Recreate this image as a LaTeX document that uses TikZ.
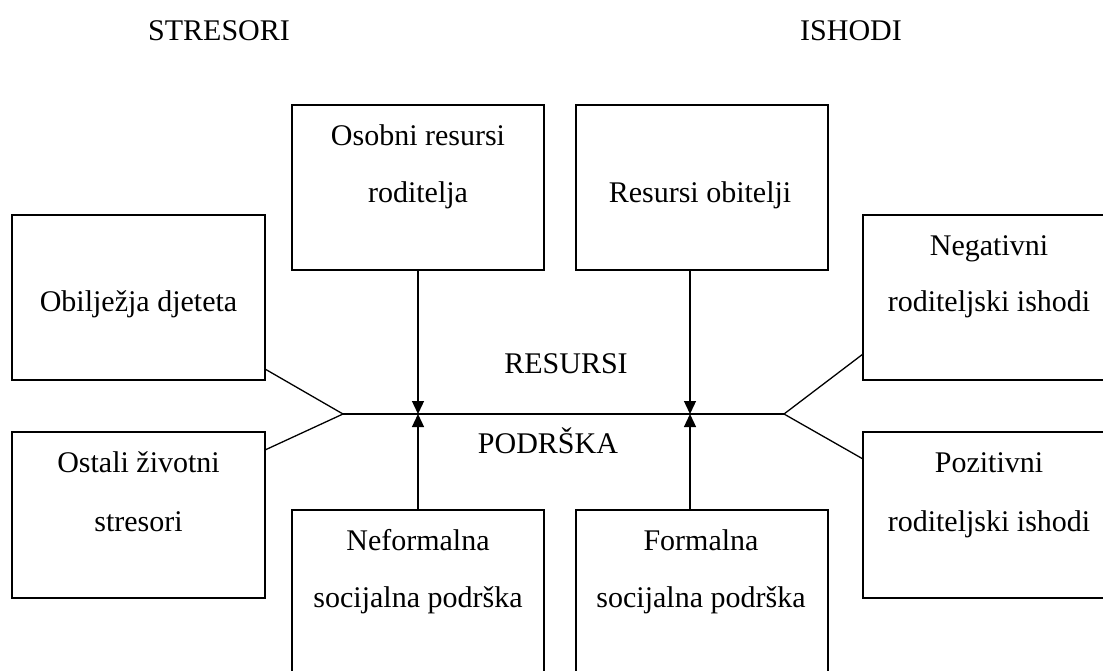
\documentclass[tikz,border=0pt]{standalone}
\usepackage{fontspec}
\setmainfont{Liberation Serif}
\usetikzlibrary{arrows.meta,calc}
\begin{document}
\begin{tikzpicture}[x=1pt,y=-1pt,
  box/.style={draw,line width=1.3pt,inner sep=0pt,outer sep=0pt,anchor=north west,
    minimum width=252pt,minimum height=165pt},
  lbl/.style={anchor=base,inner sep=0pt,font=\fontsize{30}{36}\selectfont},
  conn/.style={line width=1.3pt},
  arr/.style={line width=1.3pt,-{Triangle[width=12pt,length=13pt]}}]
\useasboundingbox (0,0) rectangle (1103,670);
% boxes
\node[box,minimum width=253pt] (obil) at (12,215) {};
\node[box,minimum width=253pt,minimum height=166pt] (ostali) at (12,432) {};
\node[box] (osobni) at (292,105) {};
\node[box] (resobit) at (576,105) {};
\node[box] (negat) at (863,215) {};
\node[box,minimum height=166pt] (pozit) at (863,432) {};
\node[box,minimum height=175pt] (nefor) at (292,510) {};
\node[box,minimum height=175pt] (formal) at (576,510) {};
% texts
\node[lbl] (tStres) at (219,40) {STRESORI};
\node[lbl] (tIsh) at (851,40) {ISHODI};
\node[lbl] (tRes) at (566,373) {RESURSI};
\node[lbl] (tPod) at (548,453) {PODRŠKA};
\node[lbl] (t1) at (138.5,311) {Obilježja djeteta};
\node[lbl] (t2a) at (138.5,472) {Ostali životni};
\node[lbl] (t2b) at (138.5,531) {stresori};
\node[lbl] (t3a) at (418,145) {Osobni resursi};
\node[lbl] (t3b) at (418,202) {roditelja};
\node[lbl] (t4) at (700,202) {Resursi obitelji};
\node[lbl] (t5a) at (989,255) {Negativni};
\node[lbl] (t5b) at (989,311) {roditeljski ishodi};
\node[lbl] (t6a) at (989,472) {Pozitivni};
\node[lbl] (t6b) at (989,531) {roditeljski ishodi};
\node[lbl] (t7a) at (418,550) {Neformalna};
\node[lbl] (t7b) at (418,607) {socijalna podrška};
\node[lbl] (t8a) at (701,550) {Formalna};
\node[lbl] (t8b) at (701,607) {socijalna podrška};
% junctions
\coordinate (L) at (343,414);
\coordinate (R) at (784,414);
\coordinate (oA) at ($(obil.south east)+(0,-11)$);
\coordinate (oB) at ($(ostali.north east)+(0,18)$);
\coordinate (nA) at ($(negat.south west)+(0,-26)$);
\coordinate (pB) at ($(pozit.north west)+(0,27)$);
\draw[conn] (L) -- (R);
\draw[conn] (oA) -- (L) -- (oB);
\draw[conn] (nA) -- (R) -- (pB);
% vertical arrows
\coordinate (sA) at (osobni.south);
\coordinate (sB) at (nefor.north);
\coordinate (rA) at (690,270);
\coordinate (rB) at (690,510);
\draw[arr] (sA) -- (sA |- L);
\draw[arr] (sB) -- (sB |- L);
\draw[arr] (rA) -- (rA |- L);
\draw[arr] (rB) -- (rB |- L);
\end{tikzpicture}
\end{document}
